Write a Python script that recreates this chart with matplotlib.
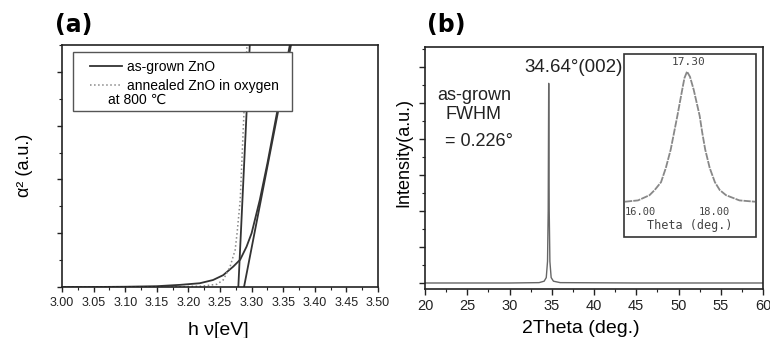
import matplotlib
matplotlib.use("Agg")
import matplotlib.pyplot as plt
from matplotlib.patches import Rectangle
from matplotlib.ticker import MultipleLocator

plt.rcParams['font.family'] = ['Liberation Sans', 'DejaVu Sans']

# (a) absorption edge, alpha^2 vs photon energy
energy_grown = [3.00, 3.05, 3.10, 3.15, 3.187, 3.218, 3.239, 3.255, 3.271, 3.282,
                3.292, 3.300, 3.313, 3.325, 3.340, 3.360, 3.370]
alpha2_grown = [0.0, 0.0, 0.005, 0.015, 0.04, 0.07, 0.13, 0.22, 0.38, 0.51,
                0.75, 1.0, 1.62, 2.3, 3.23, 4.47, 5.0]
energy_annealed = [3.00, 3.10, 3.18, 3.22, 3.245, 3.255, 3.266, 3.274, 3.277,
                   3.282, 3.287, 3.293]
alpha2_annealed = [0.0, 0.0, 0.005, 0.015, 0.05, 0.13, 0.38, 0.69, 1.0,
                   1.62, 3.0, 4.6]
fit_grown_x = [3.288, 3.364]
fit_grown_y = [0.0, 4.6]
fit_annealed_x = [3.279, 3.2975]
fit_annealed_y = [0.0, 4.6]
xticks_a = [3.00, 3.05, 3.10, 3.15, 3.20, 3.25, 3.30, 3.35, 3.40, 3.45, 3.50]

# (b) XRD pattern
two_theta = [20, 30, 33.5, 34.1, 34.35, 34.5, 34.58, 34.64, 34.7, 34.78,
             34.93, 35.2, 36, 45, 60]
intensity = [0.0, 0.0, 0.01, 0.05, 0.15, 0.6, 2.0, 5.55, 2.0, 0.6,
             0.15, 0.05, 0.01, 0.0, 0.0]
xticks_b = [20, 25, 30, 35, 40, 45, 50, 55, 60]

# inset rocking curve
theta = [15.6, 15.95, 16.26, 16.4, 16.57, 16.7, 16.83, 16.92, 17.01, 17.14, 17.2,
         17.27, 17.35, 17.45, 17.53, 17.61, 17.68, 17.76, 17.88, 18.02, 18.15,
         18.32, 18.68, 19.1]
counts = [0.0, 0.01, 0.05, 0.09, 0.15, 0.26, 0.40, 0.53, 0.66, 0.86, 0.95,
          1.0, 0.96, 0.86, 0.76, 0.66, 0.53, 0.40, 0.26, 0.15, 0.09,
          0.05, 0.01, 0.0]

fig = plt.figure(figsize=(7.7, 3.38), dpi=100)

# ---- panel (a)
ax1 = fig.add_axes([62/770, 1-287/338, 316/770, 242/338])
dark = '#333333'
ax1.plot(energy_grown, alpha2_grown, color=dark, lw=1.3)
ax1.plot(energy_annealed, alpha2_annealed, color='#888888', lw=1.1, ls=':')
ax1.plot(fit_grown_x, fit_grown_y, color=dark, lw=1.3)
ax1.plot(fit_annealed_x, fit_annealed_y, color=dark, lw=1.3)
ax1.set_xlim(3.0, 3.5)
ax1.set_ylim(0, 4.5)
ax1.set_xticks(xticks_a)
ax1.set_xticklabels(["%.2f" % v for v in xticks_a])
ax1.xaxis.set_minor_locator(MultipleLocator(0.025))
ax1.yaxis.set_major_locator(MultipleLocator(1))
ax1.yaxis.set_minor_locator(MultipleLocator(0.5))
ax1.set_yticklabels([])
ax1.tick_params(which='major', length=3.5, width=1, labelsize=9, pad=4, colors='#222222')
ax1.tick_params(which='minor', length=2, width=0.8, colors='#222222')
for s in ax1.spines.values():
    s.set_linewidth(1.2)
    s.set_color('#222222')
ax1.set_xlabel("h ν[eV]", fontsize=14)
ax1.xaxis.set_label_coords(0.494, -0.145)
ax1.set_ylabel("α² (a.u.)", fontsize=13)
ax1.yaxis.set_label_coords(-0.092, 0.504)

# legend box
ax1.add_patch(Rectangle((0.035, 0.727), 0.693, 0.244, transform=ax1.transAxes,
                        facecolor='white', edgecolor='#555555', lw=1.0, zorder=5))
h1, = ax1.plot([], [], color=dark, lw=1.3)
h2, = ax1.plot([], [], color='#888888', lw=1.1, ls=':')
leg = ax1.legend([h1, h2], ["as-grown ZnO", "annealed ZnO in oxygen"],
                 loc='upper left', bbox_to_anchor=(0.055, 0.985), frameon=False,
                 fontsize=10, handlelength=2.3, handletextpad=0.3,
                 labelspacing=0.4, borderpad=0.3)
leg.set_zorder(6)
ax1.text(0.145, 0.775, "at 800 ℃", transform=ax1.transAxes, fontsize=10,
         ha='left', va='center', zorder=7)

fig.text(55/770, 1-25/338, "(a)", fontsize=17, family='DejaVu Sans',
         fontweight='bold', ha='left', va='center')

# ---- panel (b)
ax2 = fig.add_axes([425/770, 1-289/338, 338/770, 242/338])
ax2.plot(two_theta, intensity, color='#666666', lw=1.0)
ax2.set_xlim(20, 60)
ax2.set_ylim(-0.167, 6.56)
ax2.set_xticks(xticks_b)
ax2.xaxis.set_minor_locator(MultipleLocator(2.5))
ax2.yaxis.set_major_locator(MultipleLocator(1))
ax2.yaxis.set_minor_locator(MultipleLocator(0.5))
ax2.set_yticklabels([])
ax2.tick_params(which='major', length=4, width=1, labelsize=10.5, pad=3, colors='#222222')
ax2.tick_params(which='minor', length=2, width=0.8, colors='#222222')
for s in ax2.spines.values():
    s.set_linewidth(1.2)
    s.set_color('#222222')
ax2.set_xlabel("2Theta (deg.)", fontsize=14)
ax2.xaxis.set_label_coords(0.462, -0.128)
ax2.set_ylabel("Intensity(a.u.)", fontsize=13)
ax2.yaxis.set_label_coords(-0.038, 0.566)

ax2.text(31.8, 6.0, "34.64°(002)", fontsize=13.5, ha='left', va='center', color='#222222')
ax2.text(21.5, 5.22, "as-grown", fontsize=13, ha='left', va='center', color='#222222')
ax2.text(22.4, 4.67, "FWHM", fontsize=13, ha='left', va='center', color='#222222')
ax2.text(22.4, 3.92, "= 0.226°", fontsize=13, ha='left', va='center', color='#222222')

fig.text(427/770, 1-25/338, "(b)", fontsize=17, family='DejaVu Sans',
         fontweight='bold', ha='left', va='center')

# ---- inset
fig.add_artist(Rectangle((624/770, 1-237/338), 132/770, 183/338,
                         transform=fig.transFigure, facecolor='none',
                         edgecolor='#333333', lw=1.2))
ax3 = fig.add_axes([625/770, 1-203/338, 130/770, 149/338])
ax3.patch.set_alpha(0)
ax3.plot(theta, counts, color='#888888', lw=1.3, ls=(0, (4, 0.6)))
ax3.set_xlim(15.6, 19.1)
ax3.set_ylim(-0.01, 1.135)
for s in ax3.spines.values():
    s.set_visible(False)
ax3.set_yticks([])
ax3.set_xticks([16, 18])
ax3.set_xticklabels(["16.00", "18.00"])
ax3.tick_params(axis='x', length=0, pad=3, labelsize=7.5, labelcolor='#444444')
for t in ax3.get_xticklabels():
    t.set_family('DejaVu Sans Mono')
ax3.set_xlabel("Theta (deg.)", fontsize=8.5, family='DejaVu Sans Mono',
               color='#444444', labelpad=1)
ax3.text(17.3, 1.07, "17.30", fontsize=8, family='DejaVu Sans Mono',
         ha='center', va='center', color='#444444')

fig.savefig("out.png", dpi=100)
